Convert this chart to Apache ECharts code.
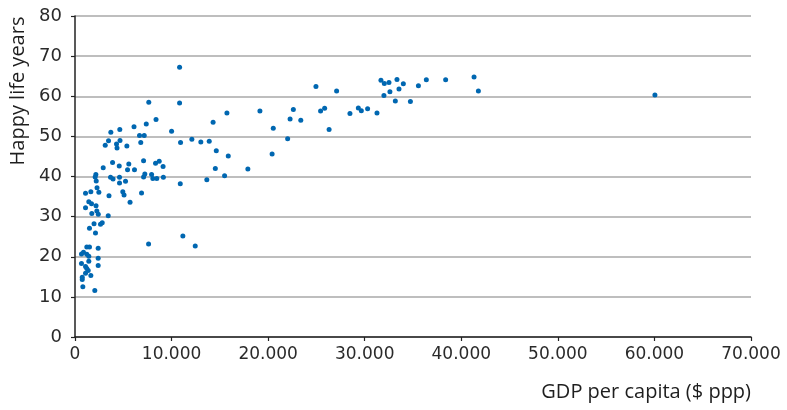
<!DOCTYPE html>
<html><head><meta charset="utf-8">
<script src="https://cdn.jsdelivr.net/npm/echarts@6/dist/echarts.min.js"></script>
<style>html,body{margin:0;padding:0;background:#fff}#c{width:787px;height:410px}</style>
</head><body><div id="c"></div>
<script>
// GDP per capita ($ ppp)
const gdp = [
  670,880,1220,1500,2400,1220,1430,2400,1430,670,1090,1220,1370,2400,1640,750,750,810,2050,1090,
  2280,2470,1090,1640,3520,4950,5080,6890,5700,1430,1710,2180,1090,2260,1740,2410,3440,2820,2640,1970,1500,2120,7620,11170,12450,
  2920,3890,4580,5570,5440,6160,7100,8340,8720,9120,2160,2090,2200,3680,3940,4610,4610,5230,7100,7230,7930,8060,8470,9150,10900,
  3130,3470,3710,4300,4350,4660,4640,5370,6110,7380,6680,7170,6810,8390,7640,10830,10830,10000,10930,12100,13030,13900,14300,15730,14630,15870,14530,15490,13650,17900,19150,
  20530,20410,22020,22270,22610,23380,24950,25430,25850,26310,27090,28470,29340,29650,30300,31270,31680,32030,32510,31990,32610,33170,33340,33550,34000,34730,35560,36380,38380,41320,41770,60050
];
// Happy life years
const happyYears = [
  20.7,21.1,22.4,22.4,22.1,20.6,20.1,19.6,18.9,18.3,17.6,17.1,16.6,17.8,15.3,14.9,14.3,12.5,11.6,15.9,
  37.2,36.1,35.8,36.2,35.2,36.2,35.4,35.9,33.6,33.7,33.2,32.7,32.2,31.4,30.8,30.6,30.2,28.5,28.1,28.2,27.1,25.9,23.2,25.2,22.7,
  42.2,43.5,42.6,43.1,41.7,41.7,43.9,43.3,43.8,42.5,40.5,39.9,38.9,39.8,39.4,39.8,38.4,38.8,39.9,40.6,40.5,39.5,39.5,39.8,38.2,
  47.8,48.9,51.0,48.1,47.1,49.0,51.7,47.6,52.4,53.1,50.2,50.2,48.5,54.2,58.5,58.3,67.2,51.3,48.5,49.3,48.6,48.8,53.5,55.8,46.4,45.1,42.0,40.2,39.2,41.9,56.3,
  52.0,45.6,49.4,54.3,56.7,54.0,62.4,56.3,57.0,51.7,61.3,55.7,57.1,56.4,56.9,55.8,64.0,63.2,63.4,60.2,61.1,58.8,64.2,61.8,63.1,58.7,62.6,64.1,64.1,64.8,61.3,60.3
];
const xTickLabels = ['0','10.000','20.000','30.000','40.000','50.000','60.000','70.000'];
const yTickLabels = ['0','10','20','30','40','50','60','70','80'];
const xTitle = 'GDP per capita ($ ppp)';
const yTitle = 'Happy life years';

const points = gdp.map((g, i) => [g, happyYears[i]]);
const labelFont = 'DejaVu Sans';
const titleFont = 'Open Sans';

const chart = echarts.init(document.getElementById('c'), null, {renderer: 'canvas'});
chart.setOption({
  animation: false,
  backgroundColor: '#ffffff',
  grid: {left: 75, right: 36, top: 16, bottom: 73, containLabel: false},
  xAxis: {
    type: 'value', min: 0, max: 70000, interval: 10000,
    name: xTitle, nameLocation: 'end', nameGap: 0,
    nameTextStyle: {fontFamily: titleFont, fontSize: 20, color: '#1e1e1e', align: 'right', verticalAlign: 'top', padding: [45, 0, 0, 0]},
    axisLine: {show: true, lineStyle: {color: '#222', width: 1.5}},
    axisTick: {show: true, length: 4, lineStyle: {color: '#222', width: 1.2}},
    axisLabel: {margin: 9, fontFamily: labelFont, fontSize: 17, color: '#2a2a2a',
      formatter: v => xTickLabels[Math.round(v / 10000)]},
    splitLine: {show: false}
  },
  yAxis: {
    type: 'value', min: 0, max: 80, interval: 10,
    axisLine: {show: true, lineStyle: {color: '#222', width: 1.5}},
    axisTick: {show: true, length: 4, lineStyle: {color: '#222', width: 1.2}},
    axisLabel: {margin: 13, fontFamily: labelFont, fontSize: 18, color: '#2a2a2a',
      formatter: v => yTickLabels[Math.round(v / 10)]},
    splitLine: {show: true, lineStyle: {color: '#a8a8a8', width: 1.5}}
  },
  graphic: [{
    type: 'text', x: 18, y: 91, rotation: Math.PI / 2,
    style: {text: yTitle, fontFamily: titleFont, fontSize: 20, fill: '#1e1e1e', textAlign: 'center', textVerticalAlign: 'middle'}
  }],
  series: [{
    type: 'scatter', data: points, symbol: 'circle', symbolSize: 5,
    itemStyle: {color: '#0067b1', opacity: 1}
  }]
});
</script>
</body></html>
